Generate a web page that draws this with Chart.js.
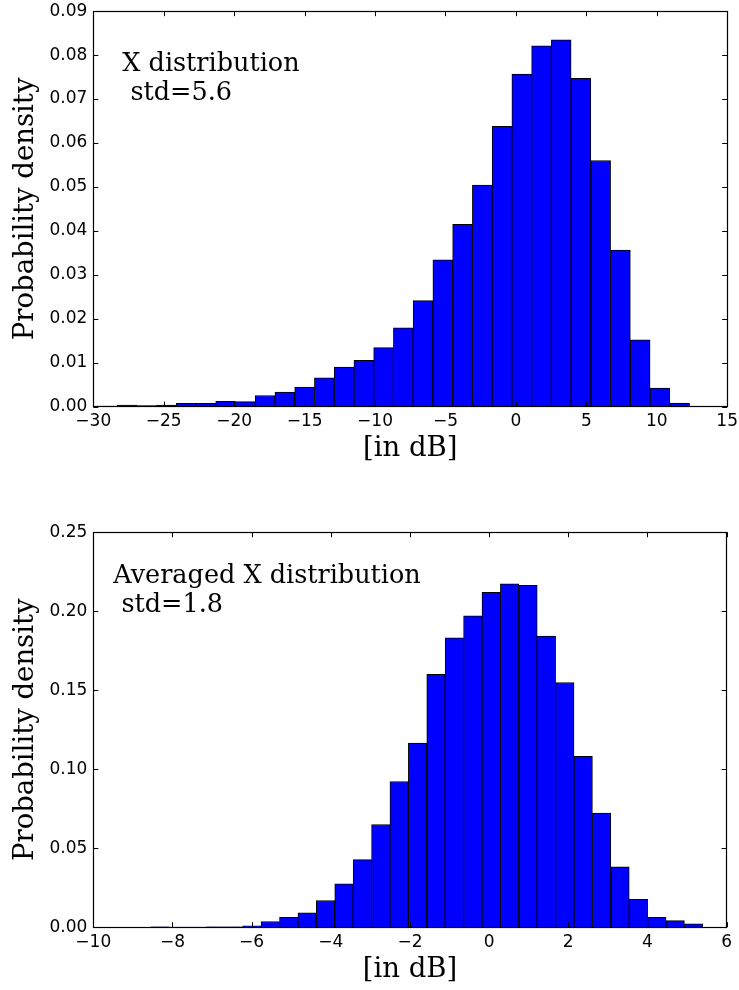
<!DOCTYPE html>
<html>
<head>
<meta charset="utf-8">
<script src="https://cdn.jsdelivr.net/npm/chart.js@4.4.1/dist/chart.umd.min.js"></script>
<style>
html, body { margin: 0; padding: 0; background: #fff; overflow: hidden; }
#wrap { position: relative; width: 739px; height: 990px; overflow: hidden; }
.box { position: absolute; left: 0; }
</style>
</head>
<body>
<div id="wrap">
  <div class="box" style="top:-5.5px; width:743px; height:475.5px;"><canvas id="top_chart"></canvas></div>
  <div class="box" style="top:515.5px; width:737px; height:475.2px;"><canvas id="bottom_chart"></canvas></div>
</div>
<script>
// Top histogram: X distribution (30 equal bins)
const TOP_BIN_LO = -29.72;
const TOP_BIN_HI = 12.33;
const TOP_DENSITY = [0.0001, 0.0003, 0.0002, 0.0003, 0.0007, 0.0007, 0.0012, 0.0011, 0.0025, 0.0033,
                     0.0044, 0.0065, 0.0090, 0.0105, 0.0134, 0.0179, 0.0241, 0.0334, 0.0415, 0.0504,
                     0.0638, 0.0757, 0.0821, 0.0835, 0.0747, 0.0560, 0.0356, 0.0152, 0.0042, 0.0008];
const TOP_X_TICKS = [-30, -25, -20, -15, -10, -5, 0, 5, 10, 15];
const TOP_Y_TICKS = [0, 0.01, 0.02, 0.03, 0.04, 0.05, 0.06, 0.07, 0.08, 0.09];
const TOP_NOTE = ["X distribution", " std=5.6"];

// Bottom histogram: averaged X distribution (30 equal bins)
const BOTTOM_BIN_LO = -8.55;
const BOTTOM_BIN_HI = 5.40;
const BOTTOM_DENSITY = [0.0002, 0.0001, 0.0001, 0.0002, 0.0002, 0.0009, 0.0036, 0.0063, 0.0091, 0.0169,
                        0.0274, 0.0428, 0.0650, 0.0922, 0.1165, 0.1600, 0.1832, 0.1971, 0.2120, 0.2173,
                        0.2163, 0.1842, 0.1549, 0.1082, 0.0722, 0.0382, 0.0177, 0.0063, 0.0042, 0.0021];
const BOTTOM_X_TICKS = [-10, -8, -6, -4, -2, 0, 2, 4, 6];
const BOTTOM_Y_TICKS = [0, 0.05, 0.10, 0.15, 0.20, 0.25];
const BOTTOM_NOTE = ["Averaged X distribution", " std=1.8"];

const X_LABEL = "[in dB]";
const Y_LABEL = "Probability density";

const TICK_FONT = { family: "DejaVu Sans", size: 17 };
const TITLE_FONT = { family: "DejaVu Serif", size: 27.5 };
const NOTE_FONT = "25.5px 'DejaVu Serif'";

// matplotlib-like frame with inward ticks on all four sides
const frame_plugin = {
    id: 'mplFrame',
    afterDatasetsDraw: function(chart) {
        let ctx = chart.ctx;
        let area = chart.chartArea;
        let xs = chart.scales.x;
        let ys = chart.scales.y;
        const tick_len = 5;
        ctx.save();
        ctx.strokeStyle = '#000';
        ctx.lineWidth = 1;
        ctx.beginPath();
        xs.ticks.forEach((t) => {
            let px = Math.round(xs.getPixelForValue(t.value)) + 0.5;
            ctx.moveTo(px, area.bottom); ctx.lineTo(px, area.bottom - tick_len);
            ctx.moveTo(px, area.top); ctx.lineTo(px, area.top + tick_len);
        });
        ys.ticks.forEach((t) => {
            let py = Math.round(ys.getPixelForValue(t.value)) + 0.5;
            ctx.moveTo(area.left, py); ctx.lineTo(area.left + tick_len, py);
            ctx.moveTo(area.right, py); ctx.lineTo(area.right - tick_len, py);
        });
        ctx.stroke();
        ctx.lineWidth = 1.2;
        ctx.strokeRect(Math.round(area.left) + 0.5, Math.round(area.top) + 0.5,
                       Math.round(area.right - area.left), Math.round(area.bottom - area.top));
        ctx.restore();
    }
};

// text note in the upper left of the axes
const note_plugin = {
    id: 'histNote',
    afterDraw: function(chart, args, opts) {
        if (!opts.lines) return;
        let ctx = chart.ctx;
        let area = chart.chartArea;
        ctx.save();
        ctx.font = NOTE_FONT;
        ctx.fillStyle = '#000';
        ctx.textBaseline = 'alphabetic';
        opts.lines.forEach((line, i) => {
            ctx.fillText(line, area.left + opts.dx, area.top + opts.dy + i * opts.lineStep);
        });
        ctx.restore();
    }
};

function make_hist(canvas_id, lo, hi, density, x_ticks, y_ticks, note, note_dx, note_dy) {
    let bin_w = (hi - lo) / density.length;
    let points = density.map((d, i) => ({ x: lo + (i + 0.5) * bin_w, y: d }));

    return new Chart(document.getElementById(canvas_id), {
        type: 'bar',
        data: {
            datasets: [{
                data: points,
                backgroundColor: '#0000ff',
                borderColor: '#000000',
                borderWidth: { top: 1, left: 1, right: 1, bottom: 0 },
                borderSkipped: false,
                barPercentage: 1.0,
                categoryPercentage: 1.0
            }]
        },
        options: {
            responsive: true,
            maintainAspectRatio: false,
            animation: false,
            layout: { padding: { top: 0, right: 0, left: 0, bottom: 0 } },
            plugins: {
                legend: { display: false },
                tooltip: { enabled: false },
                histNote: { lines: note, dx: note_dx, dy: note_dy, lineStep: 29 }
            },
            scales: {
                x: {
                    type: 'linear',
                    offset: false,
                    min: x_ticks[0],
                    max: x_ticks[x_ticks.length - 1],
                    grid: { display: false, drawTicks: false, offset: false },
                    border: { display: false },
                    afterBuildTicks: (scale) => { scale.ticks = x_ticks.map((v) => ({ value: v })); },
                    afterFit: (scale) => { scale.height = 64; },
                    ticks: {
                        color: '#000',
                        font: TICK_FONT,
                        padding: 5,
                        maxRotation: 0,
                        callback: (v) => String(v).replace('-', '\u2212')
                    },
                    title: { display: true, text: X_LABEL, color: '#000', font: TITLE_FONT, padding: { top: 0, bottom: 5 } }
                },
                y: {
                    min: y_ticks[0],
                    max: y_ticks[y_ticks.length - 1],
                    grid: { display: false, drawTicks: false },
                    border: { display: false },
                    afterBuildTicks: (scale) => { scale.ticks = y_ticks.map((v) => ({ value: v })); },
                    afterFit: (scale) => { scale.width = 93.3; },
                    ticks: {
                        color: '#000',
                        font: TICK_FONT,
                        padding: 6,
                        callback: (v) => Number(v).toFixed(2)
                    },
                    title: { display: true, text: Y_LABEL, color: '#000', font: TITLE_FONT, padding: { top: 9, bottom: 0 } }
                }
            }
        },
        plugins: [frame_plugin, note_plugin]
    });
}

make_hist('top_chart', TOP_BIN_LO, TOP_BIN_HI, TOP_DENSITY, TOP_X_TICKS, TOP_Y_TICKS, TOP_NOTE, 29, 60);
make_hist('bottom_chart', BOTTOM_BIN_LO, BOTTOM_BIN_HI, BOTTOM_DENSITY, BOTTOM_X_TICKS, BOTTOM_Y_TICKS, BOTTOM_NOTE, 20, 51);
</script>
</body>
</html>
